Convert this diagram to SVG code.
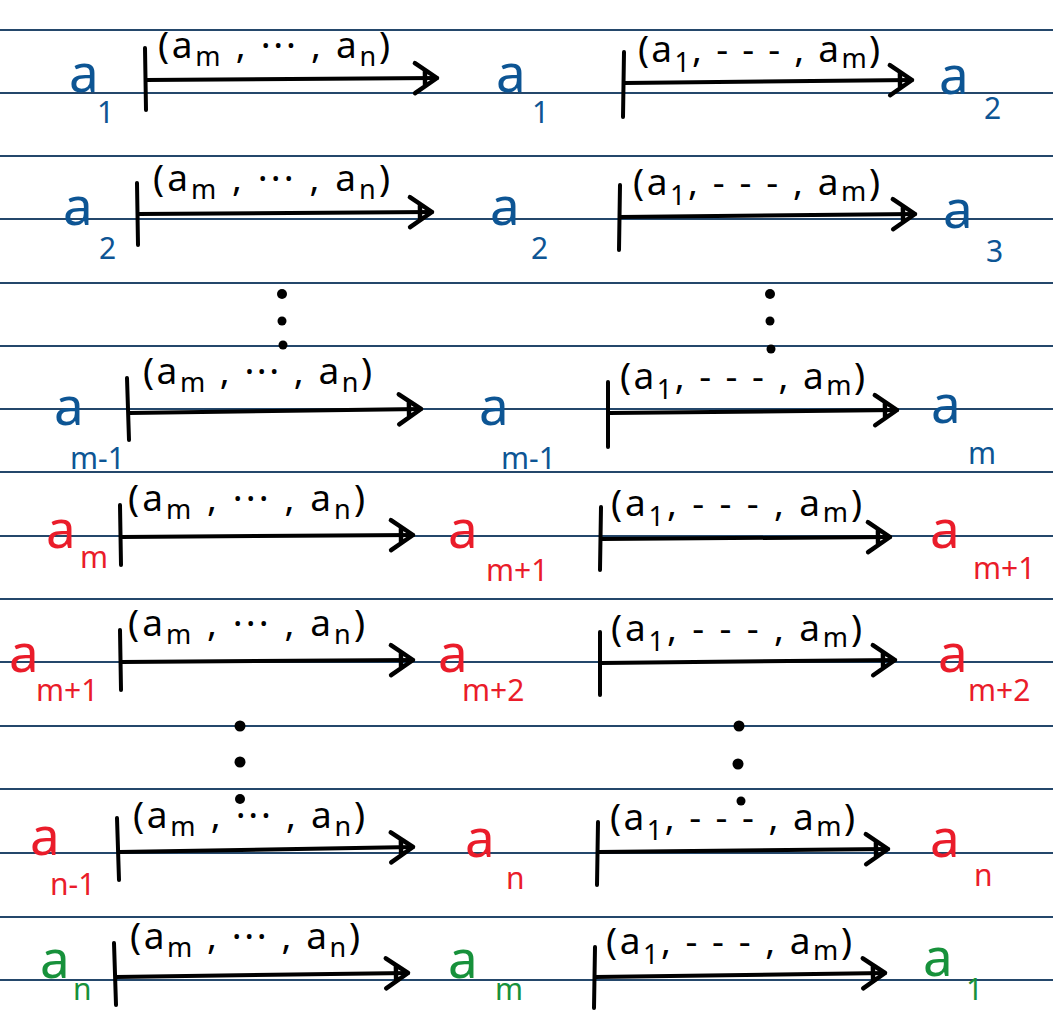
<svg xmlns="http://www.w3.org/2000/svg" width="1053" height="1010" viewBox="0 0 1053 1010">
<defs>
<style>
.rule{stroke:#24476b;stroke-width:2}
.bar{stroke:#000;stroke-width:4;stroke-linecap:round;fill:none}
.shaft{stroke:#000;stroke-width:4;stroke-linecap:round;fill:none}
.lbl{font-family:"Noto Sans","Open Sans",sans-serif;font-size:37px;fill:#000}
.ls{font-size:27px}
.nd{font-family:"Noto Sans","Open Sans",sans-serif;font-size:53px}
.ns{font-size:30px}
.blue{fill:#0d5594}
.red{fill:#ea1c2a}
.green{fill:#17913b}
.dot{fill:#000}
</style>
<marker id="ah" markerUnits="userSpaceOnUse" viewBox="-26 -18 30 36" refX="0" refY="0" markerWidth="30" markerHeight="36" orient="auto" overflow="visible">
<path d="M-22,-15 L0,0 L-22,15 M-12,-7 L-12,7" fill="none" stroke="#000" stroke-width="4.5" stroke-linecap="round" stroke-linejoin="round"/>
</marker>
</defs>
<rect width="1053" height="1010" fill="#fff"/>
<g id="rules">
<line class="rule" x1="0" y1="30" x2="1053" y2="30"/>
<line class="rule" x1="0" y1="93" x2="1053" y2="93"/>
<line class="rule" x1="0" y1="156" x2="1053" y2="156"/>
<line class="rule" x1="0" y1="219" x2="1053" y2="219"/>
<line class="rule" x1="0" y1="283" x2="1053" y2="283"/>
<line class="rule" x1="0" y1="346" x2="1053" y2="346"/>
<line class="rule" x1="0" y1="409" x2="1053" y2="409"/>
<line class="rule" x1="0" y1="472" x2="1053" y2="472"/>
<line class="rule" x1="0" y1="536" x2="1053" y2="536"/>
<line class="rule" x1="0" y1="599" x2="1053" y2="599"/>
<line class="rule" x1="0" y1="662" x2="1053" y2="662"/>
<line class="rule" x1="0" y1="726" x2="1053" y2="726"/>
<line class="rule" x1="0" y1="789" x2="1053" y2="789"/>
<line class="rule" x1="0" y1="853" x2="1053" y2="853"/>
<line class="rule" x1="0" y1="917" x2="1053" y2="917"/>
<line class="rule" x1="0" y1="980" x2="1053" y2="980"/>
</g>
<g id="connectors">
<path class="bar" d="M145,48 L146,110"/><path class="shaft" d="M146,80 L437,78" marker-end="url(#ah)"/>
<path class="bar" d="M624,52 L623,117"/><path class="shaft" d="M624,83 L912,80" marker-end="url(#ah)"/>
<path class="bar" d="M137,183 L138,245"/><path class="shaft" d="M138,214 L432,212" marker-end="url(#ah)"/>
<path class="bar" d="M620,185 L619,250"/><path class="shaft" d="M620,217 L915,214" marker-end="url(#ah)"/>
<path class="bar" d="M127,378 L129,440"/><path class="shaft" d="M129,413 L421,409" marker-end="url(#ah)"/>
<path class="bar" d="M608,382 L608,447"/><path class="shaft" d="M609,413 L897,410" marker-end="url(#ah)"/>
<path class="bar" d="M120,505 L121,565"/><path class="shaft" d="M121,537 L413,535" marker-end="url(#ah)"/>
<path class="bar" d="M601,507 L600,570"/><path class="shaft" d="M601,539 L890,537" marker-end="url(#ah)"/>
<path class="bar" d="M120,630 L121,690"/><path class="shaft" d="M121,662 L413,660" marker-end="url(#ah)"/>
<path class="bar" d="M600,632 L600,695"/><path class="shaft" d="M601,663 L895,660" marker-end="url(#ah)"/>
<path class="bar" d="M117,818 L119,880"/><path class="shaft" d="M119,852 L413,847" marker-end="url(#ah)"/>
<path class="bar" d="M598,822 L597,885"/><path class="shaft" d="M598,852 L888,849" marker-end="url(#ah)"/>
<path class="bar" d="M114,943 L116,1005"/><path class="shaft" d="M116,977 L408,973" marker-end="url(#ah)"/>
<path class="bar" d="M595,947 L594,1008"/><path class="shaft" d="M595,977 L885,973" marker-end="url(#ah)"/>
</g>
<g id="edge-labels">
<text class="lbl" x="158" y="58" textLength="232" lengthAdjust="spacing">(a<tspan class="ls" dy="8">m</tspan><tspan dy="-8"> , ··· , a</tspan><tspan class="ls" dy="8">n</tspan><tspan dy="-8">)</tspan></text>
<text class="lbl" x="638" y="62" textLength="242" lengthAdjust="spacing">(a<tspan class="ls" dy="10">1</tspan><tspan dy="-10">,  - - - , a</tspan><tspan class="ls" dy="6">m</tspan><tspan dy="-6">)</tspan></text>
<text class="lbl" x="153" y="191" textLength="237" lengthAdjust="spacing">(a<tspan class="ls" dy="8">m</tspan><tspan dy="-8"> , ··· , a</tspan><tspan class="ls" dy="8">n</tspan><tspan dy="-8">)</tspan></text>
<text class="lbl" x="633" y="195" textLength="247" lengthAdjust="spacing">(a<tspan class="ls" dy="10">1</tspan><tspan dy="-10">,  - - - , a</tspan><tspan class="ls" dy="6">m</tspan><tspan dy="-6">)</tspan></text>
<text class="lbl" x="143" y="384" textLength="229" lengthAdjust="spacing">(a<tspan class="ls" dy="8">m</tspan><tspan dy="-8"> , ··· , a</tspan><tspan class="ls" dy="8">n</tspan><tspan dy="-8">)</tspan></text>
<text class="lbl" x="620" y="389" textLength="245" lengthAdjust="spacing">(a<tspan class="ls" dy="10">1</tspan><tspan dy="-10">,  - - - , a</tspan><tspan class="ls" dy="6">m</tspan><tspan dy="-6">)</tspan></text>
<text class="lbl" x="128" y="511" textLength="237" lengthAdjust="spacing">(a<tspan class="ls" dy="8">m</tspan><tspan dy="-8"> , ··· , a</tspan><tspan class="ls" dy="8">n</tspan><tspan dy="-8">)</tspan></text>
<text class="lbl" x="611" y="516" textLength="251" lengthAdjust="spacing">(a<tspan class="ls" dy="10">1</tspan><tspan dy="-10">,  - - - , a</tspan><tspan class="ls" dy="6">m</tspan><tspan dy="-6">)</tspan></text>
<text class="lbl" x="128" y="636" textLength="237" lengthAdjust="spacing">(a<tspan class="ls" dy="8">m</tspan><tspan dy="-8"> , ··· , a</tspan><tspan class="ls" dy="8">n</tspan><tspan dy="-8">)</tspan></text>
<text class="lbl" x="611" y="641" textLength="251" lengthAdjust="spacing">(a<tspan class="ls" dy="10">1</tspan><tspan dy="-10">,  - - - , a</tspan><tspan class="ls" dy="6">m</tspan><tspan dy="-6">)</tspan></text>
<text class="lbl" x="133" y="828" textLength="232" lengthAdjust="spacing">(a<tspan class="ls" dy="8">m</tspan><tspan dy="-8"> , ··· , a</tspan><tspan class="ls" dy="8">n</tspan><tspan dy="-8">)</tspan></text>
<text class="lbl" x="610" y="830" textLength="245" lengthAdjust="spacing">(a<tspan class="ls" dy="10">1</tspan><tspan dy="-10">,  - - - , a</tspan><tspan class="ls" dy="6">m</tspan><tspan dy="-6">)</tspan></text>
<text class="lbl" x="130" y="949" textLength="230" lengthAdjust="spacing">(a<tspan class="ls" dy="8">m</tspan><tspan dy="-8"> , ··· , a</tspan><tspan class="ls" dy="8">n</tspan><tspan dy="-8">)</tspan></text>
<text class="lbl" x="606" y="954" textLength="246" lengthAdjust="spacing">(a<tspan class="ls" dy="10">1</tspan><tspan dy="-10">,  - - - , a</tspan><tspan class="ls" dy="6">m</tspan><tspan dy="-6">)</tspan></text>
</g>
<g id="ellipsis">
<circle class="dot" cx="282" cy="294" r="5"/><circle class="dot" cx="282" cy="321" r="4.5"/><circle class="dot" cx="283" cy="345" r="4.5"/>
<circle class="dot" cx="770" cy="294" r="5"/><circle class="dot" cx="770" cy="321" r="4.5"/><circle class="dot" cx="771" cy="349" r="4.5"/>
<circle class="dot" cx="240" cy="726" r="5.5"/><circle class="dot" cx="240" cy="762" r="5.5"/><circle class="dot" cx="240" cy="799" r="5"/>
<circle class="dot" cx="739" cy="726" r="5.5"/><circle class="dot" cx="738" cy="764" r="5.5"/><circle class="dot" cx="741" cy="801" r="4.5"/>
</g>
<g id="node-r1-l" class="nd blue"><text x="69" y="92">a<tspan class="ns" x="97" y="123">1</tspan></text></g>
<g id="node-r1-m" class="nd blue"><text x="496" y="92">a<tspan class="ns" x="532" y="123">1</tspan></text></g>
<g id="node-r1-r" class="nd blue"><text x="939" y="94">a<tspan class="ns" x="984" y="119">2</tspan></text></g>
<g id="node-r2-l" class="nd blue"><text x="63" y="225">a<tspan class="ns" x="99" y="259">2</tspan></text></g>
<g id="node-r2-m" class="nd blue"><text x="490" y="225">a<tspan class="ns" x="531" y="259">2</tspan></text></g>
<g id="node-r2-r" class="nd blue"><text x="943" y="228">a<tspan class="ns" x="986" y="262">3</tspan></text></g>
<g id="node-r3-l" class="nd blue"><text x="54" y="425">a<tspan class="ns" x="70" y="469">m-1</tspan></text></g>
<g id="node-r3-m" class="nd blue"><text x="479" y="425">a<tspan class="ns" x="501" y="469">m-1</tspan></text></g>
<g id="node-r3-r" class="nd blue"><text x="931" y="423">a<tspan class="ns" x="968" y="464">m</tspan></text></g>
<g id="node-r4-l" class="nd red"><text x="46" y="548">a<tspan class="ns" x="80" y="568">m</tspan></text></g>
<g id="node-r4-m" class="nd red"><text x="448" y="548">a<tspan class="ns" x="486" y="581">m+1</tspan></text></g>
<g id="node-r4-r" class="nd red"><text x="930" y="548">a<tspan class="ns" x="973" y="579">m+1</tspan></text></g>
<g id="node-r5-l" class="nd red"><text x="9" y="672">a<tspan class="ns" x="36" y="701">m+1</tspan></text></g>
<g id="node-r5-m" class="nd red"><text x="438" y="672">a<tspan class="ns" x="462" y="701">m+2</tspan></text></g>
<g id="node-r5-r" class="nd red"><text x="938" y="672">a<tspan class="ns" x="968" y="701">m+2</tspan></text></g>
<g id="node-r6-l" class="nd red"><text x="30" y="855">a<tspan class="ns" x="50" y="895">n-1</tspan></text></g>
<g id="node-r6-m" class="nd red"><text x="465" y="857">a<tspan class="ns" x="506" y="889">n</tspan></text></g>
<g id="node-r6-r" class="nd red"><text x="930" y="857">a<tspan class="ns" x="974" y="886">n</tspan></text></g>
<g id="node-r7-l" class="nd green"><text x="40" y="978">a<tspan class="ns" x="73" y="1000">n</tspan></text></g>
<g id="node-r7-m" class="nd green"><text x="448" y="978">a<tspan class="ns" x="495" y="1000">m</tspan></text></g>
<g id="node-r7-r" class="nd green"><text x="923" y="976">a<tspan class="ns" x="966" y="1000">1</tspan></text></g>
</svg>
